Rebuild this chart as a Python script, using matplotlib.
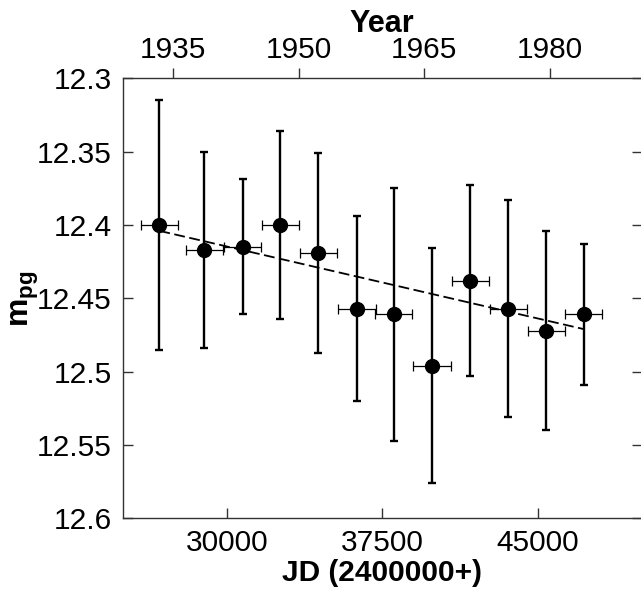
import numpy as np
import matplotlib.pyplot as plt
from matplotlib.ticker import FuncFormatter

plt.rcParams['font.family'] = ['Liberation Sans', 'DejaVu Sans']
plt.rcParams['mathtext.fontset'] = 'custom'
plt.rcParams['mathtext.rm'] = 'Liberation Sans'
plt.rcParams['mathtext.bf'] = 'Liberation Sans:bold'

# photographic magnitudes per epoch (JD - 2400000)
jd = [26752, 28924, 30777, 32591, 34425, 36278, 38045, 39898, 41746, 43580, 45413, 47214]
jd_err = [900] * 12
mag = [12.400, 12.417, 12.415, 12.400, 12.419, 12.457, 12.461, 12.496, 12.438, 12.457, 12.472, 12.461]
mag_err = [0.085, 0.067, 0.046, 0.064, 0.068, 0.063, 0.086, 0.080, 0.065, 0.074, 0.068, 0.048]

# linear trend endpoints
trend_jd = [26752, 47214]
trend_mag = [12.404, 12.471]

y_ticks = [12.3, 12.35, 12.4, 12.45, 12.5, 12.55, 12.6]
x_ticks = [30000, 37500, 45000]
year_ticks = [1935, 1950, 1965, 1980]

fig = plt.figure(figsize=(6.41, 5.90), dpi=100)
ax = fig.add_axes([123 / 641, 71.7 / 590, 518.5 / 641, 440 / 590])

# horizontal error bars (thin)
ax.errorbar(jd, mag, xerr=jd_err, fmt='none', ecolor='black', elinewidth=0.9,
            capsize=3.3, capthick=0.9, zorder=2)
# vertical error bars (thick)
ax.errorbar(jd, mag, yerr=mag_err, fmt='o', color='black', ecolor='black',
            elinewidth=1.7, capsize=2.6, capthick=1.7, markersize=10, zorder=3)

ax.plot(trend_jd, trend_mag, color='black', linestyle=(0, (6, 2.5)), linewidth=1.3, zorder=4)

ax.set_xlim(25000, 50000)
ax.set_ylim(12.6, 12.3)
ax.set_yticks(y_ticks)
ax.set_xticks(x_ticks)
ax.yaxis.set_major_formatter(FuncFormatter(lambda v, p: f'{v:g}'))

ax.tick_params(axis='both', which='major', direction='in', length=7, width=1,
               color='#333333', labelsize=21.5)
ax.tick_params(axis='y', right=True, pad=8)
ax.tick_params(axis='x', pad=8)
for s in ax.spines.values():
    s.set_color('#333333')
    s.set_linewidth(1)

ax.set_xlabel('JD (2400000+)', fontsize=21.5, fontweight='bold', labelpad=1)
ax.set_ylabel(r'$\mathbf{m_{pg}}$', fontsize=23, labelpad=-3)

# top year axis
ax2 = ax.twiny()
ax2.set_xlim(1929, 1991)
ax2.set_xticks(year_ticks)
ax2.tick_params(axis='x', direction='out', length=7, width=1, color='#333333',
                labelsize=21.5, pad=3)
for s in ax2.spines.values():
    s.set_visible(False)
ax2.set_xlabel('Year', fontsize=22, fontweight='bold', labelpad=3)

fig.savefig('out.png', dpi=100, facecolor='white')
